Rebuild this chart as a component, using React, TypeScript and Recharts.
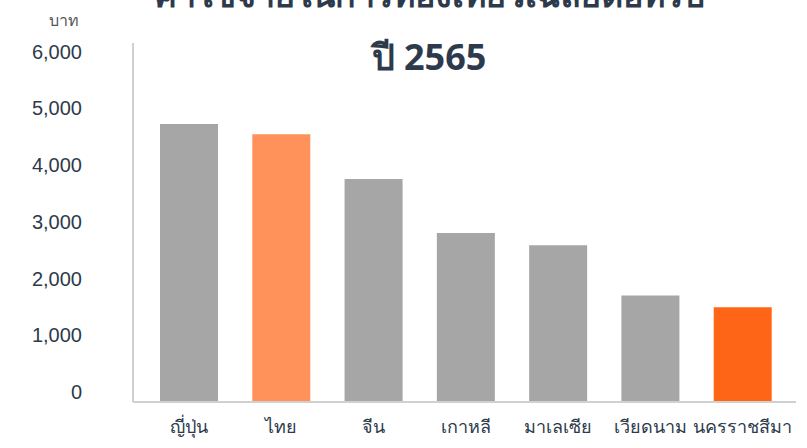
import React from 'react';
import { BarChart, Bar, XAxis, YAxis, Cell } from 'recharts';

const categories = ['ญี่ปุ่น', 'ไทย', 'จีน', 'เกาหลี', 'มาเลเซีย', 'เวียดนาม', 'นครราชสีมา'];
const spending = [4900, 4720, 3930, 2980, 2765, 1880, 1670];
const barColors = ['#a6a6a6', '#ff925a', '#a6a6a6', '#a6a6a6', '#a6a6a6', '#a6a6a6', '#ff6516'];
const yTicks = [0, 1000, 2000, 3000, 4000, 5000, 6000];
const titleLines = ['ค่าใช้จ่ายในการท่องเที่ยวเฉลี่ยต่อทริป', 'ปี 2565'];
const unitLabel = 'บาท';

const data = categories.map((name, i) => ({ name, value: spending[i] }));

const TEXT = '#2d3a4b';
const AXIS = '#d0d0d0';
const FONT = "'Noto Sans', 'Liberation Sans', Arial, sans-serif";

const YTick = ({ x, y, payload }: any) => (
    <text x={x} y={y - 10} textAnchor="end" dominantBaseline="central" fill={TEXT} fontSize={20} fontFamily="'Liberation Sans', Arial, sans-serif">
        {payload.value.toLocaleString('en-US')}
    </text>
);

const XTick = ({ x, y, payload }: any) => (
    <text x={x} y={y + 22} textAnchor="middle" dominantBaseline="central" fill={TEXT} fontSize={18} fontFamily={FONT}>
        {payload.value}
    </text>
);

const App: React.FC = () => {
    return (
        <div style={{ position: 'absolute', left: 0, top: 0, width: 807, height: 448, background: '#fff' }}>
            <BarChart
                width={807}
                height={448}
                data={data}
                margin={{ top: 43, right: 11, bottom: 0, left: 0 }}
                barCategoryGap={17}
            >
                <XAxis
                    dataKey="name"
                    interval={0}
                    axisLine={{ stroke: AXIS, strokeWidth: 2 }}
                    tickLine={false}
                    tickSize={0}
                    height={46}
                    padding={{ left: 10, right: 7 }}
                    tick={<XTick />}
                />
                <YAxis
                    domain={[0, 6330]}
                    ticks={yTicks}
                    width={133}
                    axisLine={{ stroke: AXIS, strokeWidth: 2 }}
                    tickLine={false}
                    tickSize={0}
                    tickMargin={51}
                    tick={<YTick />}
                />
                <Bar dataKey="value" isAnimationActive={false}>
                    {data.map((entry, index) => (
                        <Cell key={`cell-${index}`} fill={barColors[index]} />
                    ))}
                </Bar>
            </BarChart>
            <svg width={807} height={448} style={{ position: 'absolute', left: 0, top: 0, pointerEvents: 'none' }}>
                <text x={429} y={7} textAnchor="middle" fill={TEXT} fontSize={34} fontWeight="bold" fontFamily={FONT}>
                    {titleLines[0]}
                </text>
                <text x={429} y={70} textAnchor="middle" fill={TEXT} fontSize={36} fontWeight="bold" fontFamily={FONT}>
                    {titleLines[1]}
                </text>
                <text x={79} y={26} textAnchor="end" fill="#555" fontSize={16} fontFamily={FONT}>
                    {unitLabel}
                </text>
            </svg>
        </div>
    );
};

export default App;
